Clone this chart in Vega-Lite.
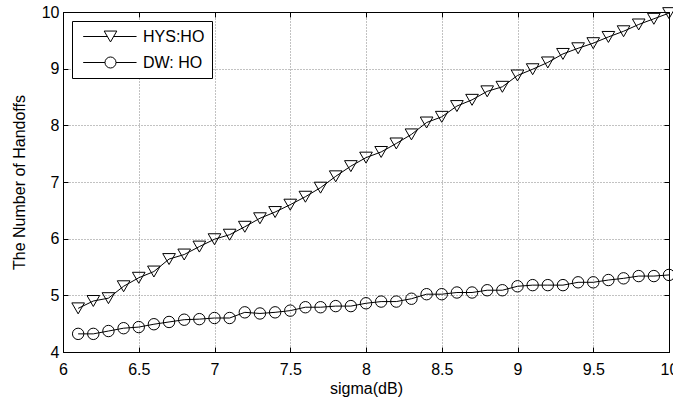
{
  "$schema": "https://vega.github.io/schema/vega-lite/v6.json",
  "width": 606,
  "height": 340,
  "autosize": {"type": "none"},
  "padding": {"left": 63, "top": 12, "right": 4, "bottom": 48},
  "background": "white",
  "config": {
    "font": "Liberation Sans",
    "view": {"stroke": "black", "strokeWidth": 1},
    "axis": {"labelFont": "Liberation Sans", "titleFont": "Liberation Sans", "labelColor": "black", "titleColor": "black", "domainColor": "black", "tickColor": "black", "labelFontSize": 16, "titleFontSize": 16, "titleFontWeight": "normal"}
  },
  "data": {"values": [
    {"x": 6.1, "y": 4.77, "s": "HYS:HO"}, {"x": 6.2, "y": 4.90, "s": "HYS:HO"}, {"x": 6.3, "y": 4.95, "s": "HYS:HO"}, {"x": 6.4, "y": 5.16, "s": "HYS:HO"}, {"x": 6.5, "y": 5.31, "s": "HYS:HO"},
    {"x": 6.6, "y": 5.42, "s": "HYS:HO"}, {"x": 6.7, "y": 5.64, "s": "HYS:HO"}, {"x": 6.8, "y": 5.72, "s": "HYS:HO"}, {"x": 6.9, "y": 5.86, "s": "HYS:HO"}, {"x": 7.0, "y": 5.99, "s": "HYS:HO"},
    {"x": 7.1, "y": 6.07, "s": "HYS:HO"}, {"x": 7.2, "y": 6.21, "s": "HYS:HO"}, {"x": 7.3, "y": 6.36, "s": "HYS:HO"}, {"x": 7.4, "y": 6.47, "s": "HYS:HO"}, {"x": 7.5, "y": 6.60, "s": "HYS:HO"},
    {"x": 7.6, "y": 6.74, "s": "HYS:HO"}, {"x": 7.7, "y": 6.90, "s": "HYS:HO"}, {"x": 7.8, "y": 7.10, "s": "HYS:HO"}, {"x": 7.9, "y": 7.28, "s": "HYS:HO"}, {"x": 8.0, "y": 7.43, "s": "HYS:HO"},
    {"x": 8.1, "y": 7.53, "s": "HYS:HO"}, {"x": 8.2, "y": 7.68, "s": "HYS:HO"}, {"x": 8.3, "y": 7.84, "s": "HYS:HO"}, {"x": 8.4, "y": 8.05, "s": "HYS:HO"}, {"x": 8.5, "y": 8.15, "s": "HYS:HO"},
    {"x": 8.6, "y": 8.34, "s": "HYS:HO"}, {"x": 8.7, "y": 8.45, "s": "HYS:HO"}, {"x": 8.8, "y": 8.60, "s": "HYS:HO"}, {"x": 8.9, "y": 8.68, "s": "HYS:HO"}, {"x": 9.0, "y": 8.88, "s": "HYS:HO"},
    {"x": 9.1, "y": 8.99, "s": "HYS:HO"}, {"x": 9.2, "y": 9.11, "s": "HYS:HO"}, {"x": 9.3, "y": 9.26, "s": "HYS:HO"}, {"x": 9.4, "y": 9.36, "s": "HYS:HO"}, {"x": 9.5, "y": 9.45, "s": "HYS:HO"},
    {"x": 9.6, "y": 9.56, "s": "HYS:HO"}, {"x": 9.7, "y": 9.66, "s": "HYS:HO"}, {"x": 9.8, "y": 9.78, "s": "HYS:HO"}, {"x": 9.9, "y": 9.88, "s": "HYS:HO"}, {"x": 10.0, "y": 9.98, "s": "HYS:HO"},
    {"x": 6.1, "y": 4.32, "s": "DW: HO"}, {"x": 6.2, "y": 4.32, "s": "DW: HO"}, {"x": 6.3, "y": 4.37, "s": "DW: HO"}, {"x": 6.4, "y": 4.42, "s": "DW: HO"}, {"x": 6.5, "y": 4.44, "s": "DW: HO"},
    {"x": 6.6, "y": 4.49, "s": "DW: HO"}, {"x": 6.7, "y": 4.53, "s": "DW: HO"}, {"x": 6.8, "y": 4.57, "s": "DW: HO"}, {"x": 6.9, "y": 4.58, "s": "DW: HO"}, {"x": 7.0, "y": 4.60, "s": "DW: HO"},
    {"x": 7.1, "y": 4.60, "s": "DW: HO"}, {"x": 7.2, "y": 4.70, "s": "DW: HO"}, {"x": 7.3, "y": 4.68, "s": "DW: HO"}, {"x": 7.4, "y": 4.70, "s": "DW: HO"}, {"x": 7.5, "y": 4.73, "s": "DW: HO"},
    {"x": 7.6, "y": 4.79, "s": "DW: HO"}, {"x": 7.7, "y": 4.79, "s": "DW: HO"}, {"x": 7.8, "y": 4.81, "s": "DW: HO"}, {"x": 7.9, "y": 4.81, "s": "DW: HO"}, {"x": 8.0, "y": 4.86, "s": "DW: HO"},
    {"x": 8.1, "y": 4.89, "s": "DW: HO"}, {"x": 8.2, "y": 4.89, "s": "DW: HO"}, {"x": 8.3, "y": 4.94, "s": "DW: HO"}, {"x": 8.4, "y": 5.02, "s": "DW: HO"}, {"x": 8.5, "y": 5.02, "s": "DW: HO"},
    {"x": 8.6, "y": 5.05, "s": "DW: HO"}, {"x": 8.7, "y": 5.05, "s": "DW: HO"}, {"x": 8.8, "y": 5.09, "s": "DW: HO"}, {"x": 8.9, "y": 5.09, "s": "DW: HO"}, {"x": 9.0, "y": 5.16, "s": "DW: HO"},
    {"x": 9.1, "y": 5.18, "s": "DW: HO"}, {"x": 9.2, "y": 5.18, "s": "DW: HO"}, {"x": 9.3, "y": 5.18, "s": "DW: HO"}, {"x": 9.4, "y": 5.23, "s": "DW: HO"}, {"x": 9.5, "y": 5.23, "s": "DW: HO"},
    {"x": 9.6, "y": 5.27, "s": "DW: HO"}, {"x": 9.7, "y": 5.30, "s": "DW: HO"}, {"x": 9.8, "y": 5.34, "s": "DW: HO"}, {"x": 9.9, "y": 5.34, "s": "DW: HO"}, {"x": 10.0, "y": 5.36, "s": "DW: HO"}
  ]},
  "layer": [
    {
      "mark": {"type": "line", "color": "black", "strokeWidth": 1},
      "encoding": {
        "x": {"field": "x", "type": "quantitative", "scale": {"domain": [6, 10], "nice": false, "zero": false},
          "axis": {"orient": "bottom", "title": "sigma(dB)", "values": [6, 6.5, 7, 7.5, 8, 8.5, 9, 9.5, 10], "format": "~g", "tickSize": -5, "labelPadding": 14, "titlePadding": 3, "grid": true, "gridColor": "#666", "gridDash": [1, 2], "gridWidth": 0.8, "labelFlush": false, "labelOverlap": false}},
        "y": {"field": "y", "type": "quantitative", "scale": {"domain": [4, 10], "nice": false, "zero": false},
          "axis": {"orient": "left", "title": "The Number of Handoffs", "values": [4, 5, 6, 7, 8, 9, 10], "tickSize": -5, "labelPadding": 9, "titlePadding": 14, "grid": true, "gridColor": "#666", "gridDash": [1, 2], "gridWidth": 0.8, "labelFlush": false, "labelOverlap": false}},
        "detail": {"field": "s", "type": "nominal"}
      }
    },
    {
      "mark": {"type": "point", "color": "black", "filled": false, "strokeWidth": 1},
      "encoding": {
        "x": {"field": "x", "type": "quantitative", "scale": {"domain": [6, 10], "nice": false, "zero": false},
          "axis": {"orient": "top", "title": null, "labels": false, "values": [6, 6.5, 7, 7.5, 8, 8.5, 9, 9.5, 10], "tickSize": -5, "grid": false}},
        "y": {"field": "y", "type": "quantitative", "scale": {"domain": [4, 10], "nice": false, "zero": false},
          "axis": {"orient": "right", "title": null, "labels": false, "values": [4, 5, 6, 7, 8, 9, 10], "tickSize": -5, "grid": false}},
        "shape": {"field": "s", "type": "nominal",
          "scale": {"domain": ["HYS:HO", "DW: HO", "_"], "range": ["triangle-down", "circle", "square"]},
          "legend": null},
        "opacity": {"field": "s", "type": "ordinal",
          "scale": {"domain": ["HYS:HO", "DW: HO"], "range": [1, 1]},
          "legend": {
            "title": null, "orient": "none", "legendX": 9, "legendY": 9,
            "padding": 7, "strokeColor": "black", "fillColor": "white",
            "symbolSize": 256, "symbolStrokeColor": "black", "symbolStrokeWidth": 1, "symbolFillColor": "transparent",
            "symbolType": {"expr": "datum.value === 'HYS:HO' ? 'M-0.54,0H2.485M3.265,0H6.13M2.875,0.68L3.665,-0.68L2.085,-0.68Z' : 'M-0.54,0H2.185M3.565,0H6.13M3.565,0A0.69,0.69 0 1,1 2.185,0A0.69,0.69 0 1,1 3.565,0Z'"},
            "labelFont": "Liberation Sans", "labelFontSize": 16, "labelColor": "black", "labelOffset": 47, "rowPadding": 9,
            "labelExpr": "datum.label + '   '"
          }},
        "size": {"condition": {"test": "datum.s === 'HYS:HO'", "value": 160}, "value": 130}
      }
    }
  ],
  "resolve": {"axis": {"x": "independent", "y": "independent"}}
}
